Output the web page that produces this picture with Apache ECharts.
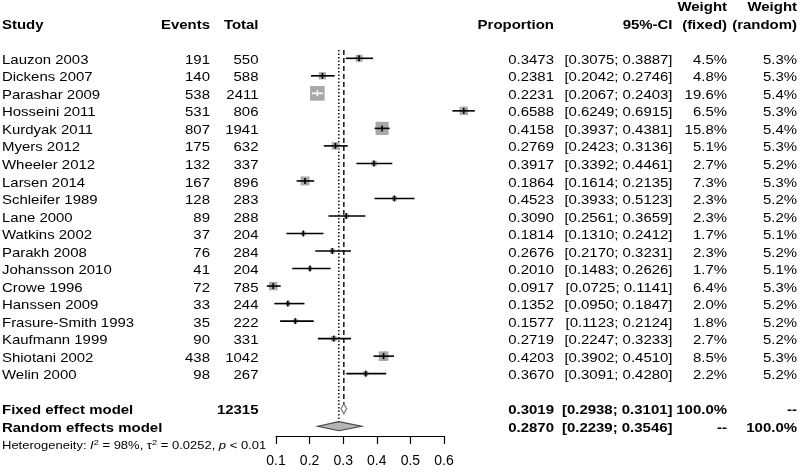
<!DOCTYPE html>
<html><head><meta charset="utf-8">
<script src="https://cdn.jsdelivr.net/npm/echarts@6/dist/echarts.min.js"></script>
<style>html,body{margin:0;padding:0;background:#fff}#c{width:800px;height:472px}</style>
</head><body><div id="c"></div>
<script>
const studies = ['Lauzon 2003','Dickens 2007','Parashar 2009','Hosseini 2011','Kurdyak 2011','Myers 2012','Wheeler 2012','Larsen 2014','Schleifer 1989','Lane 2000','Watkins 2002','Parakh 2008','Johansson 2010','Crowe 1996','Hanssen 2009','Frasure-Smith 1993','Kaufmann 1999','Shiotani 2002','Welin 2000'];
const events = [191,140,538,531,807,175,132,167,128,89,37,76,41,72,33,35,90,438,98];
const totals = [550,588,2411,806,1941,632,337,896,283,288,204,284,204,785,244,222,331,1042,267];
const proportions = [0.3473,0.2381,0.2231,0.6588,0.4158,0.2769,0.3917,0.1864,0.4523,0.3090,0.1814,0.2676,0.2010,0.0917,0.1352,0.1577,0.2719,0.4203,0.3670];
const ciLower = [0.3075,0.2042,0.2067,0.6249,0.3937,0.2423,0.3392,0.1614,0.3933,0.2561,0.1310,0.2170,0.1483,0.0725,0.0950,0.1123,0.2247,0.3902,0.3091];
const ciUpper = [0.3887,0.2746,0.2403,0.6915,0.4381,0.3136,0.4461,0.2135,0.5123,0.3659,0.2412,0.3231,0.2626,0.1141,0.1847,0.2124,0.3233,0.4510,0.4280];
const weightFixed = [4.5,4.8,19.6,6.5,15.8,5.1,2.7,7.3,2.3,2.3,1.7,2.3,1.7,6.4,2.0,1.8,2.7,8.5,2.2];
const weightRandom = [5.3,5.3,5.4,5.3,5.4,5.3,5.2,5.3,5.2,5.2,5.1,5.2,5.1,5.3,5.2,5.2,5.2,5.3,5.2];
const fixedTotal = 12315;
const fixedModel = [0.3019, 0.2938, 0.3101];
const randomModel = [0.2870, 0.2239, 0.3546];
const hetI2 = '98%', hetTau2 = '0.0252', hetP = '< 0.01';
const xTickMin = 0.1, xTickMax = 0.6, xTickStep = 0.1;

const FONT = '"Liberation Sans", Arial, sans-serif';
const SX = 1.15;
const n = studies.length;
const ROW_FIXED = n + 1, ROW_RANDOM = n + 2, ROW_HET = n + 3;
const fmt4 = v => v.toFixed(4);
const pct = v => v.toFixed(1) + '%';
const ci = (a, b) => '[' + fmt4(a) + '; ' + fmt4(b) + ']';

const tableRows = [];
tableRows.push({row: -3, bold: true, cells: [null, null, null, null, null, 'Weight', 'Weight']});
tableRows.push({row: -2, bold: true, cells: ['Study', 'Events', 'Total', 'Proportion', '95%-CI', '(fixed)', '(random)']});
studies.forEach((s, i) => tableRows.push({row: i, bold: false, cells: [s, String(events[i]), String(totals[i]), fmt4(proportions[i]), ci(ciLower[i], ciUpper[i]), pct(weightFixed[i]), pct(weightRandom[i])]}));
tableRows.push({row: ROW_FIXED, bold: true, cells: ['Fixed effect model', '', String(fixedTotal), fmt4(fixedModel[0]), ci(fixedModel[1], fixedModel[2]), '100.0%', '--']});
tableRows.push({row: ROW_RANDOM, bold: true, cells: ['Random effects model', '', '', fmt4(randomModel[0]), ci(randomModel[1], randomModel[2]), '--', '100.0%']});
tableRows.push({row: ROW_HET, het: true, cells: []});

const COLS = [{x: 2, align: 'left'}, {x: 210, align: 'right'}, {x: 258.5, align: 'right'}, {x: 554, align: 'right'}, {x: 672.5, align: 'right'}, {x: 727, align: 'right'}, {x: 797, align: 'right'}];

function tableRender(params, api) {
  const r = tableRows[params.dataIndex];
  const y = api.coord([0.1, r.row])[1] + 2;
  if (r.het) {
    return {type: 'text', x: 2, y: y, scaleX: SX, style: {
      text: 'Heterogeneity: {i|I}{s|2} = ' + hetI2 + ', \u03c4{s|2} = ' + hetTau2 + ', {i|p} ' + hetP,
      x: 0, y: 0, align: 'left', verticalAlign: 'middle', fill: '#000',
      fontSize: 11.3, fontFamily: FONT, lineHeight: 13,
      rich: {i: {fontStyle: 'italic', fontSize: 11.3, fontFamily: FONT, lineHeight: 13},
             s: {fontSize: 8, fontFamily: FONT, verticalAlign: 'top', lineHeight: 13}}
    }};
  }
  const children = [];
  r.cells.forEach((t, k) => {
    if (!t) return;
    children.push({type: 'text', x: COLS[k].x, y: y, scaleX: SX, style: {
      text: t, x: 0, y: 0, align: COLS[k].align, verticalAlign: 'middle', fill: '#000',
      fontSize: 13, fontFamily: FONT, fontWeight: r.bold ? 'bold' : 'normal'}});
  });
  return {type: 'group', children: children};
}

function studyRender(params, api) {
  const i = params.dataIndex;
  const p = api.coord([proportions[i], i]);
  const lo = api.coord([ciLower[i], i]);
  const hi = api.coord([ciUpper[i], i]);
  const size = 3.3 * Math.sqrt(weightFixed[i]);
  const inside = lo[0] >= p[0] - size / 2 && hi[0] <= p[0] + size / 2;
  const lc = inside ? '#fff' : '#000';
  return {type: 'group', children: [
    {type: 'rect', shape: {x: p[0] - size / 2, y: p[1] - size / 2, width: size, height: size}, style: {fill: '#a8a8a8', stroke: null}},
    {type: 'line', shape: {x1: lo[0], y1: p[1], x2: hi[0], y2: p[1]}, style: {stroke: lc, lineWidth: 1.6}},
    {type: 'line', shape: {x1: p[0], y1: p[1] - 3, x2: p[0], y2: p[1] + 3}, style: {stroke: lc, lineWidth: 1.6}}
  ]};
}

const summaries = [
  {m: fixedModel, row: ROW_FIXED, half: 5, fill: '#fff', stroke: '#777', dash: [5, 3]},
  {m: randomModel, row: ROW_RANDOM, half: 4.5, fill: '#b5b5b5', stroke: '#444', dash: [1.5, 2]}
];
function summaryRender(params, api) {
  const s = summaries[params.dataIndex];
  const c = api.coord([s.m[0], s.row]);
  const lo = api.coord([s.m[1], s.row]);
  const hi = api.coord([s.m[2], s.row]);
  const top = api.coord([s.m[0], -0.47]);
  return {type: 'group', children: [
    {type: 'line', shape: {x1: c[0], y1: top[1], x2: c[0], y2: c[1] - s.half}, style: {stroke: '#000', lineWidth: 1.4, lineDash: s.dash}},
    {type: 'polygon', shape: {points: [[lo[0], c[1]], [c[0], c[1] - s.half], [hi[0], c[1]], [c[0], c[1] + s.half]]}, style: {fill: s.fill, stroke: s.stroke, lineWidth: 1.2}}
  ]};
}

const chart = echarts.init(document.getElementById('c'), null, {renderer: 'canvas'});
chart.setOption({
  animation: false,
  backgroundColor: '#fff',
  grid: {left: 276, right: 356, top: 0, bottom: 36},
  xAxis: {type: 'value', min: xTickMin, max: xTickMax, interval: xTickStep, position: 'bottom',
    axisLine: {show: true, onZero: false, lineStyle: {color: '#000', width: 1.2}},
    axisTick: {show: true, inside: false, length: 8, lineStyle: {color: '#000', width: 1.2}},
    axisLabel: {color: '#000', fontSize: 14, fontFamily: FONT, margin: 18, formatter: v => v.toFixed(1)},
    splitLine: {show: false}},
  yAxis: {type: 'value', inverse: true, min: -3.328, max: 21.558, show: false},
  series: [
    {type: 'custom', clip: false, renderItem: summaryRender, data: summaries.map(s => [s.m[0], s.row]), encode: {x: 0, y: 1}, silent: true},
    {type: 'custom', clip: false, renderItem: studyRender, data: studies.map((s, i) => [proportions[i], i]), encode: {x: 0, y: 1}, silent: true},
    {type: 'custom', clip: false, renderItem: tableRender, data: tableRows.map(r => [0.1, r.row]), encode: {x: 0, y: 1}, silent: true}
  ]
});
</script></body></html>
